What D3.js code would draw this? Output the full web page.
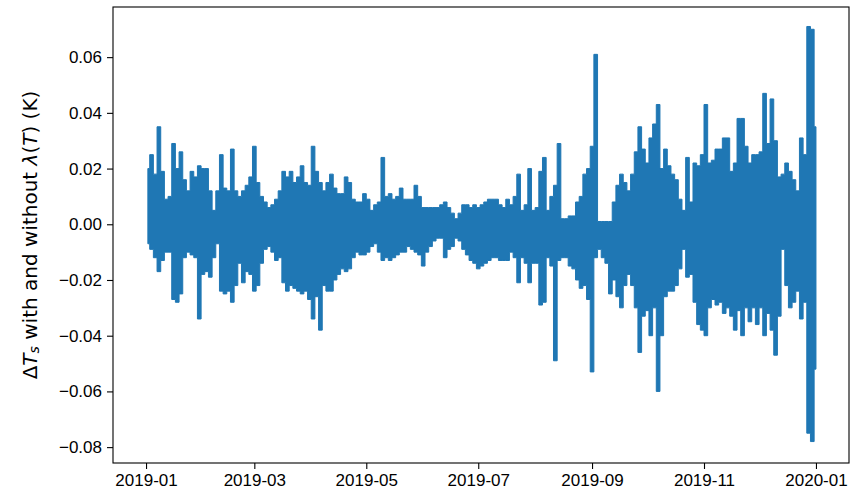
<!DOCTYPE html>
<html>
<head>
<meta charset="utf-8">
<script src="https://cdn.jsdelivr.net/npm/d3@7"></script>
<style>
  body { margin: 0; background: #fff; }
  svg { font-family: "DejaVu Sans", sans-serif; }
</style>
</head>
<body>
<svg id="chart" width="850" height="490"></svg>
<script>
// start of the series, values every 2 days
const startDate = "2019-01-01";
const stepDays = 2;

// upper envelope per 2-day step, in mK
const upperMK = [
  20, 25, 18, 35, 19, 9, 10, 29, 20, 26,
  16, 12, 19, 17, 21, 20, 20, 12, 5, 12,
  25, 13, 12, 27, 12, 10, 12, 14, 17, 28,
  15, 10, 8, 6, 7, 9, 12, 19, 17, 19,
  15, 17, 21, 15, 14, 28, 19, 15, 12, 15,
  18, 13, 11, 11, 17, 15, 9, 8, 8, 11,
  9, 5, 7, 8, 24, 10, 11, 9, 10, 13,
  9, 9, 9, 14, 10, 6, 6, 6, 6, 6,
  7, 8, 6, 4, 2, 4, 7, 7, 6, 7,
  6, 7, 8, 9, 9, 9, 7, 6, 9, 7,
  10, 18, 5, 7, 20, 5, 6, 19, 24, 5,
  10, 14, 29, 2, 2, 3, 3, 8, 10, 18,
  20, 28, 61, 1, 1, 1, 1, 8, 14, 18,
  15, 12, 18, 26, 35, 27, 22, 31, 36, 43,
  20, 27, 21, 18, 16, 9, 5, 24, 8, 22,
  21, 25, 43, 22, 23, 27, 27, 31, 31, 19,
  22, 38, 38, 28, 22, 25, 25, 26, 47, 29,
  45, 30, 17, 18, 22, 19, 16, 12, 31, 25,
  71, 70, 35
];

// lower envelope per 2-day step, in mK
const lowerMK = [
  -7, -9, -12, -17, -13, -10, -10, -27, -28, -25,
  -12, -10, -11, -12, -34, -18, -17, -19, -12, -7,
  -24, -25, -24, -28, -22, -14, -21, -17, -18, -24,
  -22, -14, -9, -8, -10, -13, -12, -21, -24, -22,
  -23, -24, -25, -24, -27, -34, -26, -38, -22, -24,
  -24, -20, -18, -16, -17, -16, -12, -10, -11, -11,
  -10, -8, -7, -10, -13, -12, -13, -12, -11, -10,
  -10, -8, -9, -10, -11, -15, -10, -8, -6, -5,
  -5, -12, -9, -8, -5, -6, -9, -11, -13, -14,
  -16, -15, -14, -13, -12, -12, -13, -13, -13, -10,
  -12, -21, -12, -14, -21, -14, -14, -29, -28, -12,
  -15, -49, -13, -12, -12, -15, -16, -20, -23, -22,
  -27, -53, -12, -9, -12, -14, -25, -20, -26, -30,
  -22, -18, -22, -30, -46, -33, -31, -40, -30, -60,
  -40, -26, -24, -24, -22, -16, -9, -19, -18, -28,
  -36, -38, -40, -30, -27, -29, -28, -32, -30, -33,
  -38, -31, -40, -30, -35, -30, -36, -30, -40, -32,
  -38, -47, -33, -9, -22, -30, -28, -24, -34, -28,
  -75, -78, -52
];

const yTicks = [-0.08, -0.06, -0.04, -0.02, 0.00, 0.02, 0.04, 0.06];
const xTickMonths = ["2019-01", "2019-03", "2019-05", "2019-07", "2019-09", "2019-11", "2020-01"];

const svg = d3.select("#chart");
const margin = { left: 113, right: 849, top: 7, bottom: 463 };
const DAY = 864e5;

const parse = d3.utcParse("%Y-%m-%d");
const t0 = parse(startDate);

// one record per 2-day step
const series = upperMK.map((u, i) => ({
  date: new Date(t0.getTime() + (i * stepDays + 1) * DAY),
  hi: u / 1000,
  lo: lowerMK[i] / 1000
}));

const x = d3.scaleUtc()
  .domain([new Date(t0.getTime() - 18 * DAY), new Date(t0.getTime() + 383 * DAY)])
  .range([margin.left, margin.right]);

const y = d3.scaleLinear()
  .domain([-0.0857, 0.0780])
  .range([margin.bottom, margin.top]);

// dense hourly signal shows as a filled band between its envelopes
svg.append("path")
  .datum(series)
  .attr("fill", "#1f77b4")
  .attr("stroke", "#1f77b4")
  .attr("stroke-width", 1)
  .attr("stroke-linejoin", "miter")
  .attr("d", d3.area()
    .curve(d3.curveStep)
    .x(d => x(d.date))
    .y0(d => y(d.lo))
    .y1(d => y(d.hi)));

// axes
const fmtMonth = d3.utcFormat("%Y-%m");
const xAxis = d3.axisBottom(x)
  .tickValues(xTickMonths.map(m => d3.utcParse("%Y-%m")(m)))
  .tickFormat(fmtMonth)
  .tickSizeInner(6).tickSizeOuter(0).tickPadding(5);

const yAxis = d3.axisLeft(y)
  .tickValues(yTicks)
  .tickFormat(d3.format(".2f"))
  .tickSizeInner(6).tickSizeOuter(0).tickPadding(5);

const gx = svg.append("g").attr("transform", `translate(0,${margin.bottom})`).call(xAxis);
const gy = svg.append("g").attr("transform", `translate(${margin.left},0)`).call(yAxis);

[gx, gy].forEach(g => {
  g.select(".domain").remove();
  g.selectAll("line").attr("stroke", "#000").attr("stroke-width", 1.1);
  g.selectAll("text").attr("fill", "#000").style("font-size", "17px");
});

// frame
svg.append("rect")
  .attr("x", margin.left).attr("y", margin.top)
  .attr("width", margin.right - margin.left)
  .attr("height", margin.bottom - margin.top)
  .attr("fill", "none").attr("stroke", "#000").attr("stroke-width", 1.1);

// y label with math parts
const lab = svg.append("text")
  .attr("transform", `translate(30,${(margin.top + margin.bottom) / 2}) rotate(-90)`)
  .attr("text-anchor", "middle")
  .attr("dominant-baseline", "central")
  .style("font-size", "20px")
  .attr("fill", "#000");
lab.append("tspan").text("Δ");
lab.append("tspan").attr("font-style", "italic").text("T");
lab.append("tspan").attr("font-style", "italic").style("font-size", "14px").attr("dy", 4).text("s");
lab.append("tspan").attr("dy", -4).text(" with and without ");
lab.append("tspan").attr("font-style", "italic").text("λ");
lab.append("tspan").text("(");
lab.append("tspan").attr("font-style", "italic").text("T");
lab.append("tspan").text(") (K)");
</script>
</body>
</html>
